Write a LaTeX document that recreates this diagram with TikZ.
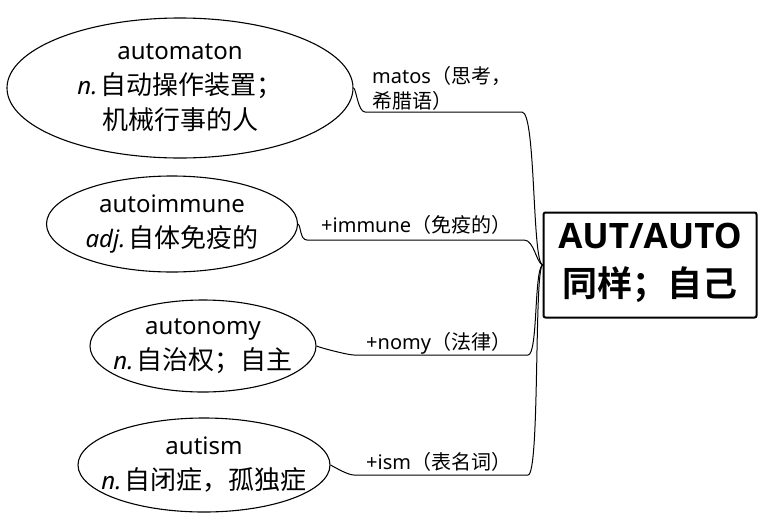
\documentclass[tikz,border=0pt]{standalone}
\usepackage{fontspec}
\setmainfont{Noto Sans}
\newfontfamily\cj{Noto Sans CJK SC}
\newfontfamily\cjb{Noto Sans CJK SC Bold}
\newfontfamily\ob{Open Sans}
\newcommand\zh[1]{{\cj\fontsize{26}{35}\selectfont #1}}
\newcommand\zl[1]{{\cj #1}}
\newcommand\pos[1]{\textit{#1}\hspace{3pt}}
\usetikzlibrary{shapes.geometric}
\begin{document}
\begin{tikzpicture}[x=1pt,y=-1pt,
  word/.style={draw,ellipse,line width=1.1pt,inner sep=0pt},
  wtext/.style={font=\fontsize{24}{35}\selectfont,align=center,inner sep=0pt},
  lab/.style={font=\fontsize{20}{25}\selectfont,anchor=west,align=left,inner sep=0pt},
  link/.style={line width=1pt}]
\useasboundingbox (0,0) rectangle (760,517);
\node[word,minimum width=346pt,minimum height=140pt] (e1) at (180,88) {};
\node[wtext] (t1) at (e1.center) {automaton\\\pos{n.}\zh{自动操作装置；}\\\zh{机械行事的人}};
\node[word,minimum width=251pt,minimum height=96pt] (e2) at (172,224) {};
\node[wtext] (t2) at (e2.center) {autoimmune\\\pos{adj.}\zh{自体免疫的}};
\node[word,minimum width=226pt,minimum height=92pt] (e3) at (203,346) {};
\node[wtext] (t3) at (e3.center) {autonomy\\\pos{n.}\zh{自治权；自主}};
\node[word,minimum width=252pt,minimum height=94pt] (e4) at (204,465) {};
\node[wtext] (t4) at (e4.center) {autism\\\pos{n.}\zh{自闭症，孤独症}};
\node[draw,line width=2pt,rounded corners=2pt,minimum width=213pt,minimum height=105pt] (root) at (650,265) {};
\node[align=center,inner sep=0pt,font=\fontsize{35}{48}\selectfont] (rt) at ([yshift=2pt]root.center) {{\ob\bfseries AUT/AUTO}\\{\cjb 同样；自己}};
\node[lab] (l1) at (372,88) {matos\zl{（思考，}\\\zl{希腊语）}};
\node[lab] (l2) at (321,225) {+immune\zl{（免疫的）}};
\node[lab] (l3) at (366,343) {+nomy\zl{（法律）}};
\node[lab] (l4) at (366,462) {+ism\zl{（表名词）}};
\draw[link] (e1.east) .. controls (356,88) and (358,112) .. (365,112) -- (522,112) .. controls (536,112) and (532,262) .. (root.west);
\draw[link] (e2.east) .. controls (301,226) and (300,240) .. (307,240) -- (524,240) .. controls (534,240) and (536,262) .. (root.west);
\draw[link] (e3.east) .. controls (321,348) and (348,355) .. (354,355) -- (528,355) .. controls (538,355) and (534,270) .. (root.west);
\draw[link] (e4.east) .. controls (336,468) and (348,475) .. (354,475) -- (528,475) .. controls (540,475) and (534,270) .. (root.west);
\end{tikzpicture}
\end{document}
